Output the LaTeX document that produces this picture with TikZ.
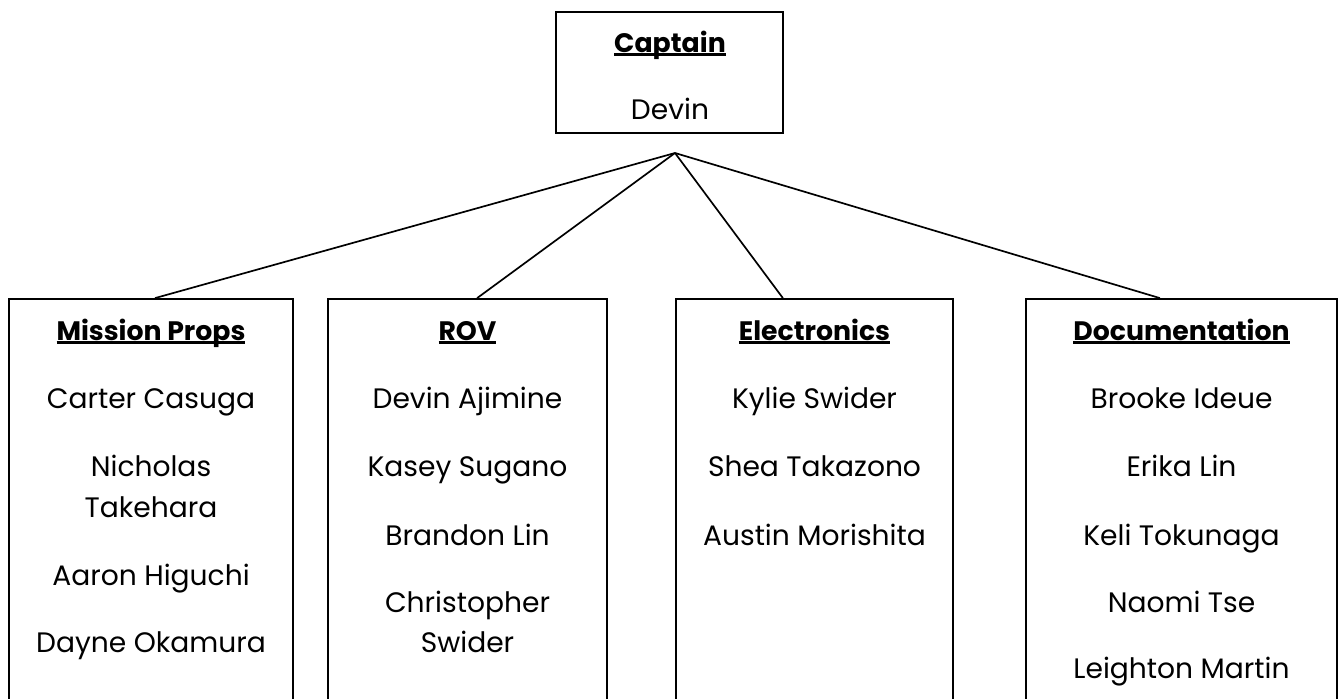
\documentclass[tikz,border=0pt]{standalone}
\usepackage{fontspec}
\setmainfont{Poppins}
\usetikzlibrary{positioning}

\newcommand{\ttl}[1]{\setbox0\hbox{\bfseries #1}\rlap{\rule[-2.8pt]{\wd0}{2pt}}\box0}
\tikzset{
	unit/.style={draw, line width=1.2pt, rectangle},
	member/.style={anchor=base, inner sep=0pt, font=\fontsize{20}{24}\selectfont},
	teamhead/.style={anchor=base, inner sep=0pt, font=\fontsize{19}{23}\selectfont},
	link/.style={line width=1.2pt}
}

\begin{document}
\begin{tikzpicture}[x=0.025cm,y=-0.025cm]
    \useasboundingbox (0,0) rectangle (1343,698);
    % Definitions
    \coordinate (hub)     at (675,153);
    \coordinate (Captain) at (669.5,72.5);
    \coordinate (Mission) at (151,510);
    \coordinate (Rov)     at (467.5,510);
    \coordinate (Electr)  at (814.5,510);
    \coordinate (Docs)    at (1181.5,510);
    % Boxes
    \node(C)  at (Captain) [unit, minimum width=5.675cm, minimum height=3.025cm] {};
    \node(MP) at (Mission) [unit, minimum width=7.1cm,   minimum height=10.55cm] {};
    \node(RV) at (Rov)     [unit, minimum width=6.975cm, minimum height=10.55cm] {};
    \node(EL) at (Electr)  [unit, minimum width=6.925cm, minimum height=10.55cm] {};
    \node(DC) at (Docs)    [unit, minimum width=7.775cm, minimum height=10.55cm] {};
    % Captain
    \node(Ct) at (670,52)  [teamhead] {\ttl{Captain}};
    \node(Cn) at (670,119) [member] {Devin};
    % Mission Props
    \node(MPt) at (151,340) [teamhead] {\ttl{Mission Props}};
    \node(MP1) at (151,408) [member] {Carter Casuga};
    \node(MP2) at (151,476) [member] {Nicholas};
    \node(MP3) at (151,517) [member] {Takehara};
    \node(MP4) at (151,585) [member] {Aaron Higuchi};
    \node(MP5) at (151,652) [member] {Dayne Okamura};
    % ROV
    \node(RVt) at (467.5,340) [teamhead] {\ttl{ROV}};
    \node(RV1) at (467.5,408) [member] {Devin Ajimine};
    \node(RV2) at (467.5,476) [member] {Kasey Sugano};
    \node(RV3) at (467.5,545) [member] {Brandon Lin};
    \node(RV4) at (467.5,612) [member] {Christopher};
    \node(RV5) at (467.5,652) [member] {Swider};
    % Electronics
    \node(ELt) at (814.5,340) [teamhead] {\ttl{Electronics}};
    \node(EL1) at (814.5,408) [member] {Kylie Swider};
    \node(EL2) at (814.5,476) [member] {Shea Takazono};
    \node(EL3) at (814.5,545) [member] {Austin Morishita};
    % Documentation
    \node(DCt) at (1181.5,340) [teamhead] {\ttl{Documentation}};
    \node(DC1) at (1181.5,408) [member] {Brooke Ideue};
    \node(DC2) at (1181.5,476) [member] {Erika Lin};
    \node(DC3) at (1181.5,545) [member] {Keli Tokunaga};
    \node(DC4) at (1181.5,612) [member] {Naomi Tse};
    \node(DC5) at (1181.5,678) [member] {Leighton Martin};
    % Lines
    \draw[link] (hub) -- ([xshift=0.1cm]MP.north);
    \draw[link] (hub) -- ([xshift=0.24cm]RV.north);
    \draw[link] (hub) -- ([xshift=-0.79cm]EL.north);
    \draw[link] (hub) -- ([xshift=-0.54cm]DC.north);
\end{tikzpicture}
\end{document}
